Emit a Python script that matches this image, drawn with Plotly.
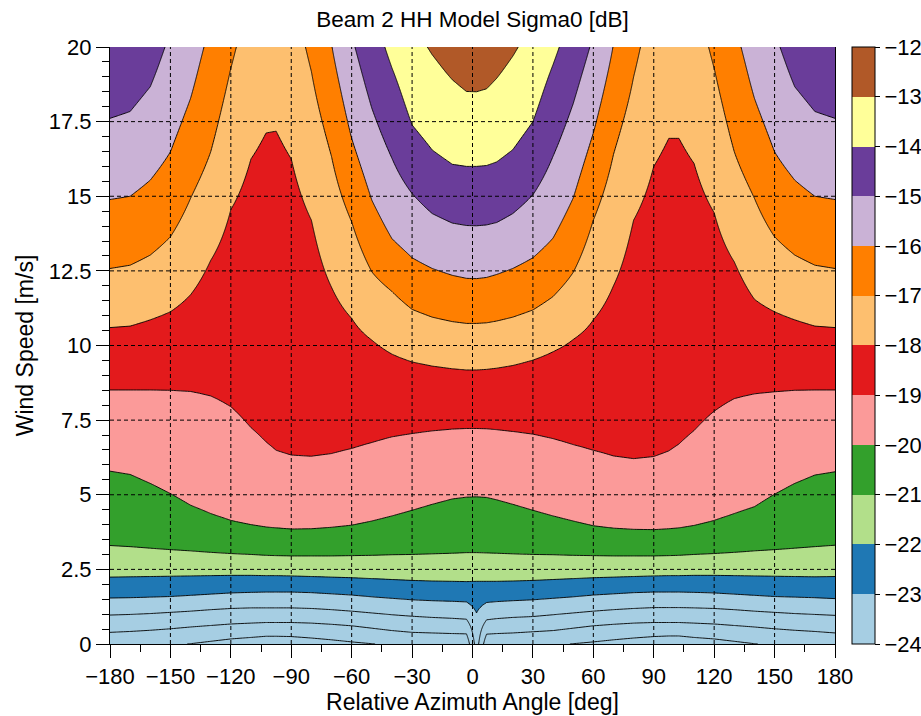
import numpy as np
import plotly.graph_objects as go

# Azimuth columns (deg) at which contour crossing heights were read
azimuth = [-180, -170, -160, -150, -140, -130, -120, -110, -102.5, -97.5, -90, -80, -70, -60,
           -50, -40, -30, -20, -10, -3, 2, 7, 12, 20, 30, 40, 50, 60, 70, 80, 90, 97.5,
           102.5, 110, 120, 130, 140, 150, 160, 170, 180]

# Sigma0 levels [dB]
levels = [-27, -26, -25, -24, -23, -22, -21, -20, -19, -18, -17, -16, -15, -14, -13, -12]

# Wind speed [m/s] at which each level is reached, per azimuth column
ws_m27 = [-0.67, -0.64, -0.60, -0.55, -0.49, -0.41, -0.33, -0.28, -0.24, -0.24, -0.25, -0.30, -0.36, -0.43,
          -0.49, -0.55, -0.60, -0.65, -0.68, -0.70, -2.40, -0.70, -0.69, -0.65, -0.60, -0.55, -0.49, -0.43,
          -0.36, -0.30, -0.25, -0.23, -0.23, -0.28, -0.33, -0.41, -0.49, -0.55, -0.60, -0.64, -0.67]
ws_m26 = [-0.17, -0.14, -0.10, -0.05, 0.01, 0.09, 0.17, 0.22, 0.26, 0.26, 0.25, 0.20, 0.14, 0.07,
          0.01, -0.05, -0.10, -0.15, -0.18, -0.20, -1.80, -0.20, -0.19, -0.15, -0.10, -0.05, 0.01, 0.07,
          0.14, 0.20, 0.25, 0.27, 0.27, 0.22, 0.17, 0.09, 0.01, -0.05, -0.10, -0.14, -0.17]
ws_m25 = [0.39, 0.42, 0.46, 0.51, 0.57, 0.62, 0.67, 0.70, 0.72, 0.72, 0.72, 0.70, 0.66, 0.61,
          0.53, 0.45, 0.39, 0.37, 0.35, 0.34, -1.20, 0.33, 0.35, 0.37, 0.41, 0.45, 0.53, 0.61,
          0.66, 0.70, 0.72, 0.72, 0.72, 0.70, 0.67, 0.62, 0.57, 0.51, 0.46, 0.42, 0.37]
ws_m24 = [0.97, 0.99, 1.02, 1.06, 1.10, 1.15, 1.19, 1.21, 1.21, 1.21, 1.21, 1.19, 1.15, 1.10,
          1.04, 0.98, 0.93, 0.89, 0.86, 0.83, -0.60, 0.81, 0.85, 0.89, 0.92, 0.98, 1.04, 1.10,
          1.15, 1.19, 1.22, 1.22, 1.22, 1.21, 1.19, 1.15, 1.10, 1.06, 1.02, 0.99, 0.96]
ws_m23 = [1.54, 1.55, 1.57, 1.59, 1.63, 1.67, 1.71, 1.73, 1.74, 1.74, 1.74, 1.72, 1.68, 1.64,
          1.58, 1.53, 1.48, 1.45, 1.43, 1.41, 1.04, 1.39, 1.42, 1.45, 1.48, 1.53, 1.58, 1.64,
          1.68, 1.72, 1.74, 1.74, 1.74, 1.73, 1.71, 1.67, 1.63, 1.59, 1.57, 1.55, 1.52]
ws_m22 = [2.24, 2.25, 2.26, 2.27, 2.28, 2.29, 2.30, 2.30, 2.29, 2.29, 2.28, 2.26, 2.24, 2.22,
          2.19, 2.16, 2.13, 2.11, 2.10, 2.09, 2.10, 2.10, 2.10, 2.11, 2.13, 2.16, 2.19, 2.22,
          2.24, 2.26, 2.28, 2.29, 2.29, 2.30, 2.30, 2.29, 2.28, 2.27, 2.26, 2.25, 2.26]
ws_m21 = [3.30, 3.26, 3.21, 3.16, 3.12, 3.07, 3.03, 3.00, 2.97, 2.96, 2.95, 2.95, 2.95, 2.96,
          2.97, 2.99, 3.00, 3.02, 3.04, 3.06, 3.06, 3.05, 3.04, 3.02, 3.00, 2.99, 2.97, 2.96,
          2.95, 2.95, 2.95, 2.96, 2.97, 3.00, 3.03, 3.07, 3.12, 3.16, 3.21, 3.26, 3.31]
ws_m20 = [5.79, 5.68, 5.38, 5.04, 4.65, 4.37, 4.14, 4.00, 3.92, 3.89, 3.85, 3.86, 3.91, 3.98,
          4.12, 4.29, 4.48, 4.68, 4.86, 4.92, 4.93, 4.91, 4.83, 4.68, 4.48, 4.29, 4.12, 3.96,
          3.88, 3.84, 3.83, 3.86, 3.89, 3.97, 4.14, 4.37, 4.60, 5.02, 5.38, 5.66, 5.77]
ws_m19 = [8.51, 8.51, 8.51, 8.50, 8.46, 8.31, 7.95, 7.25, 6.77, 6.49, 6.33, 6.29, 6.38, 6.55,
          6.75, 6.94, 7.05, 7.14, 7.20, 7.22, 7.22, 7.21, 7.18, 7.12, 7.03, 6.88, 6.68, 6.49,
          6.30, 6.21, 6.28, 6.47, 6.70, 7.15, 7.80, 8.22, 8.38, 8.45, 8.50, 8.51, 8.51]
ws_m18 = [10.60, 10.65, 10.86, 11.13, 11.70, 12.85, 14.55, 16.25, 17.12, 17.18, 16.25, 14.20, 11.95, 10.91,
          10.18, 9.71, 9.45, 9.31, 9.22, 9.18, 9.18, 9.20, 9.24, 9.33, 9.51, 9.79, 10.20, 10.86,
          12.00, 14.20, 16.00, 16.94, 16.94, 16.10, 14.45, 12.80, 11.55, 11.13, 10.86, 10.65, 10.60]
ws_m17 = [12.58, 12.69, 13.03, 13.64, 14.93, 16.49, 19.29, 22.0, 23.0, 23.0, 22.0, 19.18, 16.33, 14.14,
          12.47, 11.81, 11.21, 10.95, 10.80, 10.74, 10.74, 10.76, 10.82, 10.95, 11.19, 11.64, 12.45, 14.20,
          16.40, 19.00, 22.0, 23.0, 23.0, 22.0, 19.29, 16.49, 14.93, 13.64, 13.03, 12.69, 12.58]
ws_m16 = [14.89, 15.00, 15.54, 16.49, 18.28, 20.8, 24.0, 26.0, 27.0, 27.0, 26.0, 24.0, 20.1, 16.94,
          14.87, 13.58, 12.94, 12.58, 12.35, 12.25, 12.24, 12.28, 12.38, 12.58, 12.94, 13.60, 14.94, 17.12,
          20.1, 24.0, 26.0, 27.0, 27.0, 26.0, 24.0, 20.8, 18.28, 16.49, 15.54, 15.00, 14.89]
ws_m15 = [17.61, 17.84, 18.67, 20.5, 23.0, 25.0, 28.0, 30.0, 31.0, 31.0, 30.0, 28.0, 25.0, 20.4,
          17.95, 16.27, 15.09, 14.42, 14.10, 14.02, 14.01, 14.04, 14.12, 14.42, 15.05, 16.34, 18.10, 20.4,
          25.0, 28.0, 30.0, 31.0, 31.0, 30.0, 28.0, 25.0, 23.0, 20.5, 18.67, 17.84, 17.61]
ws_m14 = [21.5, 22.0, 23.0, 24.5, 26.0, 28.0, 31.0, 33.0, 34.0, 34.0, 33.0, 31.0, 28.0, 24.0,
          21.5, 19.3, 17.39, 16.55, 16.07, 16.00, 16.00, 16.03, 16.15, 16.56, 17.50, 19.41, 21.5, 24.0,
          28.0, 31.0, 33.0, 34.0, 34.0, 33.0, 31.0, 28.0, 26.0, 24.5, 23.0, 22.0, 21.5]
ws_m13 = [26.0, 27.0, 28.0, 29.0, 30.0, 32.0, 35.0, 37.0, 38.0, 38.0, 37.0, 35.0, 32.0, 28.0,
          25.0, 22.5, 21.0, 19.74, 18.90, 18.51, 18.50, 18.60, 18.95, 19.69, 21.0, 22.5, 25.0, 28.0,
          32.0, 35.0, 37.0, 38.0, 38.0, 37.0, 35.0, 32.0, 30.0, 29.0, 28.0, 27.0, 26.0]
ws_m12 = [31.0, 32.0, 33.0, 34.0, 35.0, 37.0, 40.0, 42.0, 43.0, 43.0, 42.0, 40.0, 37.0, 33.0,
          30.0, 27.0, 24.0, 22.5, 21.8, 21.5, 21.5, 21.6, 21.9, 22.5, 24.0, 27.0, 30.0, 33.0,
          37.0, 40.0, 42.0, 43.0, 43.0, 42.0, 40.0, 37.0, 35.0, 34.0, 33.0, 32.0, 31.0]

x_ticks = [-180, -150, -120, -90, -60, -30, 0, 30, 60, 90, 120, 150, 180]
y_ticks = [0, 2.5, 5, 7.5, 10, 12.5, 15, 17.5, 20]
y_ticktext = ["0", "2.5", "5", "7.5", "10", "12.5", "15", "17.5", "20"]
cbar_ticks = [-24, -23, -22, -21, -20, -19, -18, -17, -16, -15, -14, -13, -12]

paired = ['#a6cee3', '#1f78b4', '#b2df8a', '#33a02c', '#fb9a99', '#e31a1c',
          '#fdbf6f', '#ff7f00', '#cab2d6', '#6a3d9a', '#ffff99', '#b15928']


def pchip(xk, yk, xq):
    """Monotone cubic (Fritsch-Carlson) interpolation."""
    xk = np.asarray(xk, float)
    yk = np.asarray(yk, float)
    h = np.diff(xk)
    dl = np.diff(yk) / h
    d = np.zeros_like(xk)
    for k in range(1, len(xk) - 1):
        if dl[k - 1] * dl[k] > 0:
            w1 = 2 * h[k] + h[k - 1]
            w2 = h[k] + 2 * h[k - 1]
            d[k] = (w1 + w2) / (w1 / dl[k - 1] + w2 / dl[k])
    d[0] = dl[0]
    d[-1] = dl[-1]
    i = np.clip(np.searchsorted(xk, xq) - 1, 0, len(xk) - 2)
    t = (xq - xk[i]) / h[i]
    h00 = 2 * t**3 - 3 * t**2 + 1
    h10 = t**3 - 2 * t**2 + t
    h01 = -2 * t**3 + 3 * t**2
    h11 = t**3 - t**2
    return h00 * yk[i] + h10 * h[i] * d[i] + h01 * yk[i + 1] + h11 * h[i] * d[i + 1]


# ---- build the grid plotly's contour needs from the read crossing heights ----
heights = np.array([ws_m27, ws_m26, ws_m25, ws_m24, ws_m23, ws_m22, ws_m21, ws_m20,
                    ws_m19, ws_m18, ws_m17, ws_m16, ws_m15, ws_m14, ws_m13, ws_m12])
wind_grid = np.linspace(0, 20, 201)
Z = np.empty((len(wind_grid), len(azimuth)))
for j in range(len(azimuth)):
    Z[:, j] = pchip(heights[:, j], levels, wind_grid)

# contour fill colours: levels -26 .. -13 drawn; below -24 uses the lowest colour
c_start, c_end = -26, -13
nc = c_end - c_start + 1
fill_cols = [paired[0]]  # background (below first level)
for L in range(c_start, c_end + 1):
    fill_cols.append(paired[max(L + 24, 0)])
contour_scale = [[j / nc, fill_cols[j]] for j in range(nc + 1)]

# discrete colour bar scale -24 .. -12
cb_scale = []
for k, c in enumerate(paired):
    cb_scale.append([k / 12, c])
    cb_scale.append([(k + 1) / 12, c])


def minus(v):
    return ("%g" % v).replace("-", "\u2212")


FONT = "Liberation Sans, Arial, Helvetica, sans-serif"

fig = go.Figure()
fig.add_trace(go.Contour(
    x=azimuth, y=wind_grid, z=Z,
    autocontour=False,
    contours=dict(start=c_start, end=c_end, size=1, coloring="fill", showlines=True),
    colorscale=contour_scale,
    line=dict(color="black", width=0.9, smoothing=0),
    showscale=False, hoverinfo="skip",
))

fig.add_trace(go.Scatter(
    x=[None], y=[None], mode="markers", showlegend=False, hoverinfo="skip",
    marker=dict(color=[cbar_ticks[0]], cmin=cbar_ticks[0], cmax=cbar_ticks[-1],
                colorscale=cb_scale, showscale=True,
                colorbar=dict(
                    thickness=23, thicknessmode="pixels", len=1, lenmode="fraction",
                    x=1.0234, xanchor="left", y=0.5, yanchor="middle", xpad=0, ypad=0,
                    outlinewidth=1, outlinecolor="black", borderwidth=0,
                    ticks="outside", ticklen=5, tickwidth=1, tickcolor="black",
                    tickvals=cbar_ticks, ticktext=[minus(v) for v in cbar_ticks],
                    tickfont=dict(family=FONT, size=22, color="black"),
                )),
))

# dashed grid drawn above the filled contours
shapes = []
for xv in x_ticks[1:-1]:
    shapes.append(dict(type="line", xref="x", yref="y", x0=xv, x1=xv, y0=y_ticks[0], y1=y_ticks[-1],
                       line=dict(color="black", width=1, dash="4px,3px"), layer="above"))
for yv in y_ticks[1:-1]:
    shapes.append(dict(type="line", xref="x", yref="y", x0=x_ticks[0], x1=x_ticks[-1], y0=yv, y1=yv,
                       line=dict(color="black", width=1, dash="4px,3px"), layer="above"))

fig.update_layout(
    width=921, height=716,
    margin=dict(l=110, r=86, t=47, b=72, autoexpand=False),
    paper_bgcolor="white", plot_bgcolor="white",
    font=dict(family=FONT, color="black"),
    title=dict(text="Beam 2 HH Model Sigma0 [dB]", x=0.5, xref="paper", xanchor="center",
               y=1 - 19 / 716, yref="container", yanchor="middle",
               font=dict(family=FONT, size=22.5, color="black")),
    shapes=shapes,
    xaxis=dict(range=[-180, 180], tickvals=x_ticks, ticktext=[minus(v) for v in x_ticks],
               ticks="outside", ticklen=13, tickwidth=1, tickcolor="black",
               minor=dict(ticks="outside", ticklen=7, tickwidth=1, tickcolor="black", dtick=15, tick0=0, showgrid=False),
               showline=True, linecolor="black", linewidth=1, mirror=False,
               showgrid=False, zeroline=False, layer="above traces",
               tickfont=dict(family=FONT, size=22, color="black"),
               title=dict(text="Relative Azimuth Angle [deg]", standoff=4,
                          font=dict(family=FONT, size=23, color="black"))),
    yaxis=dict(range=[0, 20], tickvals=y_ticks, ticktext=y_ticktext,
               ticks="outside", ticklen=13, tickwidth=1, tickcolor="black",
               minor=dict(ticks="outside", ticklen=7, tickwidth=1, tickcolor="black", dtick=0.5, tick0=0, showgrid=False),
               showline=True, linecolor="black", linewidth=1, mirror=True,
               showgrid=False, zeroline=False, layer="above traces",
               tickfont=dict(family=FONT, size=22, color="black"),
               title=dict(text="Wind Speed [m/s]", standoff=8,
                          font=dict(family=FONT, size=23, color="black"))),
)

fig.write_html("out.html")
